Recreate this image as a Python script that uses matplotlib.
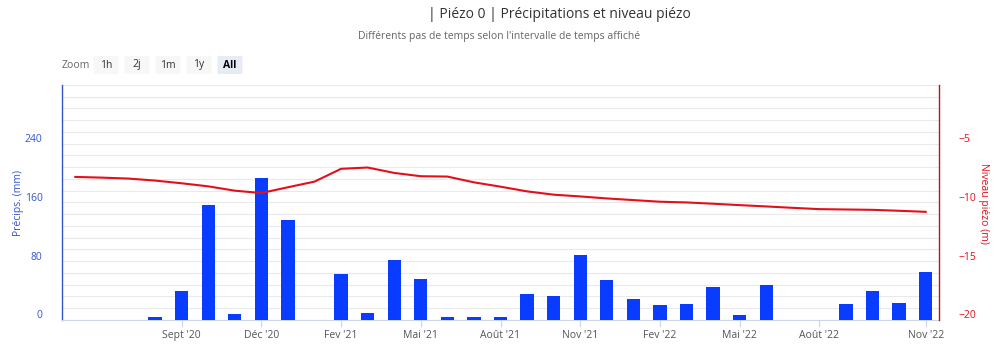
import numpy as np
import matplotlib
matplotlib.use('Agg')
import matplotlib.pyplot as plt
from matplotlib.patches import FancyBboxPatch
from matplotlib.transforms import ScaledTranslation

plt.rcParams['font.family'] = ['Open Sans', 'DejaVu Sans']

###############################################################################
# Data (one value per month, index 0 = first month shown)
###############################################################################
MONTH_IDX = np.arange(33)
PRECIP = [0, 0, 0, 3.7, 39, 157, 8, 193, 136, 0, 62, 9.6, 82, 56, 3.7, 3.7,
          3.7, 36, 33, 89, 54, 29, 21, 22, 45, 7, 47, 0, 0, 22, 40, 23, 65]
PIEZO = [-7.83, -7.89, -7.97, -8.14, -8.37, -8.63, -9.0, -9.2, -8.71, -8.23,
         -7.14, -7.03, -7.49, -7.77, -7.8, -8.29, -8.66, -9.06, -9.34, -9.49,
         -9.66, -9.8, -9.94, -10.0, -10.11, -10.23, -10.34, -10.46, -10.57,
         -10.6, -10.63, -10.71, -10.8]
TICK_IDX = [4, 7, 10, 13, 16, 19, 22, 25, 28, 32]
TICK_LABELS = ["Sept '20", "Déc '20", "Fev '21", "Mai '21", "Août '21",
               "Nov '21", "Fev '22", "Mai '22", "Août '22", "Nov '22"]
ZOOM_BTNS = ['1h', '2j', '1m', '1y', 'All']

BLUE = '#0a3cff'
AXBLUE = '#3355cc'
RED = '#e3101c'
GRID = '#e9e9e9'

###############################################################################
# Figure
###############################################################################
fig = plt.figure(figsize=(10, 3.52), dpi=100)
ax = fig.add_axes([0.062, 0.0909, 0.877, 0.668])
ax2 = ax.twinx()

# Bars ------------------------------------------------------------------------
ax.bar(MONTH_IDX, PRECIP, width=0.5, color=BLUE, zorder=3)
ax.set_xlim(-0.5, 32.5)
ax.set_ylim(0, 320)
ax.set_yticks([0, 80, 160, 240])
ax.set_yticks(np.arange(0, 321, 16), minor=True)
ax.grid(axis='y', which='both', color=GRID, lw=0.8, zorder=0)
ax.tick_params(axis='y', which='both', length=0, colors=AXBLUE,
               labelsize=7.5, pad=14)
ax.set_xticks(TICK_IDX)
ax.set_xticklabels(TICK_LABELS)
ax.tick_params(axis='x', length=5, color='#ccd6eb', labelcolor='#555555',
               labelsize=7.5, pad=2)
ax.set_axisbelow(True)
for s in ['top', 'right']:
    ax.spines[s].set_visible(False)
ax.spines['left'].set_color(AXBLUE)
ax.spines['left'].set_linewidth(1.0)
ax.spines['bottom'].set_color('#ccd6eb')
off = ScaledTranslation(0, 4 / 72, fig.dpi_scale_trans)
for lab in ax.get_yticklabels():
    lab.set_transform(lab.get_transform() + off)

# Line ------------------------------------------------------------------------
ax2.plot(MONTH_IDX, PIEZO, color=RED, lw=1.5, zorder=4)
ax2.set_ylim(-20, 0)
ax2.set_yticks([-20, -15, -10, -5])
ax2.tick_params(axis='y', length=0, colors=RED, labelsize=7.5, pad=14)
for s in ['top', 'left', 'bottom']:
    ax2.spines[s].set_visible(False)
ax2.spines['right'].set_color('#c0101a')
ax2.spines['right'].set_linewidth(1.0)
for lab in ax2.get_yticklabels():
    lab.set_transform(lab.get_transform() + off)

# Axis titles -----------------------------------------------------------------
fig.text(0.018, 1 - 203 / 352, 'Précips. (mm)', rotation=90, color=AXBLUE,
         fontsize=7.5, ha='center', va='center')
fig.text(0.983, 1 - 203 / 352, 'Niveau piézo (m)', rotation=270, color=RED,
         fontsize=7.5, ha='center', va='center')

# Titles ----------------------------------------------------------------------
fig.text(0.559, 1 - 14 / 352, '| Piézo 0 | Précipitations et niveau piézo',
         ha='center', va='center', fontsize=10, color='#333333')
fig.text(0.499, 1 - 37 / 352,
         "Différents pas de temps selon l'intervalle de temps affiché",
         ha='center', va='center', fontsize=7.5, color='#666666')

# Zoom buttons ----------------------------------------------------------------
fig.text(0.062, 1 - 65 / 352, 'Zoom', ha='left', va='center', fontsize=7.5,
         color='#666666')
btn_x = [106, 137, 168, 199, 230]
for (bx, lab) in zip(btn_x, ZOOM_BTNS):
    sel = lab == 'All'
    fig.patches.append(FancyBboxPatch(
        ((bx - 12.5) / 1000, 1 - 74 / 352), 25 / 1000, 18 / 352,
        boxstyle='round,pad=0,rounding_size=0.003',
        transform=fig.transFigure, fc='#e6ebf5' if sel else '#f7f7f7',
        ec='none'))
    fig.text(bx / 1000, 1 - 65 / 352, lab, ha='center', va='center',
             fontsize=7.5, color='#000000' if sel else '#333333',
             fontweight='bold' if sel else 'normal')

fig.savefig('out.png', dpi=100, facecolor='white')
